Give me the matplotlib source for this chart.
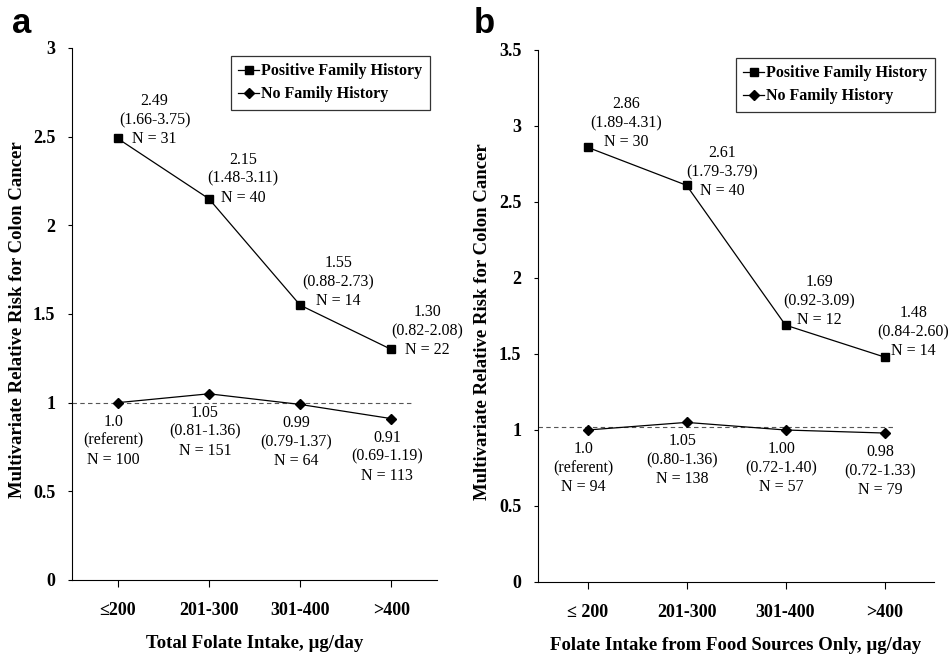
import numpy as np
import matplotlib
matplotlib.use("Agg")
import matplotlib.pyplot as plt

SERIF = ["Liberation Serif", "DejaVu Serif"]

categories_a = ["≤200", "201-300", "301-400", ">400"]
categories_b = ["≤ 200", "201-300", "301-400", ">400"]

pos_a = [2.49, 2.15, 1.55, 1.30]
pos_a_labels = ["2.49\n(1.66-3.75)\nN = 31", "2.15\n(1.48-3.11)\nN = 40",
                "1.55\n(0.88-2.73)\nN = 14", "1.30\n(0.82-2.08)\nN = 22"]
neg_a = [1.0, 1.05, 0.99, 0.91]
neg_a_labels = ["1.0\n(referent)\nN = 100", "1.05\n(0.81-1.36)\nN = 151",
                "0.99\n(0.79-1.37)\nN = 64", "0.91\n(0.69-1.19)\nN = 113"]

pos_b = [2.86, 2.61, 1.69, 1.48]
pos_b_labels = ["2.86\n(1.89-4.31)\nN = 30", "2.61\n(1.79-3.79)\nN = 40",
                "1.69\n(0.92-3.09)\nN = 12", "1.48\n(0.84-2.60)\nN = 14"]
neg_b = [1.0, 1.05, 1.00, 0.98]
neg_b_labels = ["1.0\n(referent)\nN = 94", "1.05\n(0.80-1.36)\nN = 138",
                "1.00\n(0.72-1.40)\nN = 57", "0.98\n(0.72-1.33)\nN = 79"]

W, H = 951, 656
fig = plt.figure(figsize=(W / 100, H / 100), dpi=100, facecolor="white")


def px_axes(left, top, right, bottom):
    return fig.add_axes([left / W, 1 - bottom / H, (right - left) / W, (bottom - top) / H])


def draw_panel(ax, cats, pos, pos_labels, neg, neg_labels, ymax, yticks, ref_y, ref_end,
               xlabel, leg_x, pos_offsets):
    x = np.arange(len(cats))
    ax.plot(x, pos, color="black", lw=0.9, marker="s", ms=6, mfc="black", mec="black",
            label="Positive Family History", zorder=3)
    ax.plot(x, neg, color="black", lw=0.9, marker="D", ms=5, mfc="black", mec="black",
            label="No Family History", zorder=3)
    ax.plot([-0.5, ref_end], [ref_y, ref_y], color="#555555", lw=0.8, ls=(0, (4, 3)), zorder=2)

    for xi, yi, lab, off in zip(x, pos, pos_labels, pos_offsets):
        ax.annotate(lab, (xi, yi), xytext=off, textcoords="offset pixels",
                    ha="center", va="bottom", fontsize=11.5, family=SERIF, linespacing=1.25,
                    annotation_clip=False)
    for xi, yi, lab in zip(x, neg, neg_labels):
        ax.annotate(lab, (xi, yi), xytext=(-4, -11), textcoords="offset pixels",
                    ha="center", va="top", fontsize=11.5, family=SERIF, linespacing=1.25)

    ax.set_xlim(-0.5, 3.5)
    ax.set_ylim(0, ymax)
    ax.set_xticks(x)
    ax.set_xticklabels(cats, fontsize=13, fontweight="bold", family=SERIF)
    ax.set_yticks(yticks)
    ax.set_yticklabels([f"{t:g}" for t in yticks], fontsize=13, fontweight="bold", family=SERIF)
    ax.tick_params(axis="x", direction="out", length=5, width=0.8, pad=11)
    ax.tick_params(axis="y", direction="out", length=3, width=0.8, pad=9)
    for s in ["top", "right"]:
        ax.spines[s].set_visible(False)
    for s in ["left", "bottom"]:
        ax.spines[s].set_linewidth(0.8)
    ax.set_xlabel(xlabel, fontsize=13.5, fontweight="bold", family=SERIF, labelpad=11)

    leg = ax.legend(loc="upper left", bbox_to_anchor=(leg_x, 0.985), frameon=True, fancybox=False,
                    edgecolor="black", handlelength=1.3, handletextpad=0.15, borderpad=0.45,
                    labelspacing=0.45, borderaxespad=0,
                    prop={"family": SERIF, "weight": "bold", "size": 11.5})
    leg.get_frame().set_linewidth(0.9)


ax_a = px_axes(72, 48, 437, 580)
draw_panel(ax_a, categories_a, pos_a, pos_a_labels, neg_a, neg_a_labels,
           3, [0, 0.5, 1, 1.5, 2, 2.5, 3], 1.0, 3.25, "Total Folate Intake, µg/day", 0.436,
           [(37, -9), (34, -7), (38, -4), (36, -9)])

ax_b = px_axes(538, 50, 934, 582)
draw_panel(ax_b, categories_b, pos_b, pos_b_labels, neg_b, neg_b_labels,
           3.5, [0, 0.5, 1, 1.5, 2, 2.5, 3, 3.5], 1.02, 3.1,
           "Folate Intake from Food Sources Only, µg/day", 0.50,
           [(39, -3), (36, -14), (34, -3), (29, -2)])

ylab = "Multivariate Relative Risk for Colon Cancer"
fig.text(18 / W, 1 - 320 / H, ylab, rotation=90, ha="center", va="center",
         fontsize=13.5, fontweight="bold", family=SERIF)
fig.text(483 / W, 1 - 322 / H, ylab, rotation=90, ha="center", va="center",
         fontsize=13.5, fontweight="bold", family=SERIF)

fig.text(12 / W, 1 - 33 / H, "a", fontsize=25, fontweight="bold", family="Liberation Sans", va="baseline")
fig.text(474 / W, 1 - 33 / H, "b", fontsize=25, fontweight="bold", family="Liberation Sans", va="baseline")

fig.savefig("out.png", dpi=100, facecolor="white")
